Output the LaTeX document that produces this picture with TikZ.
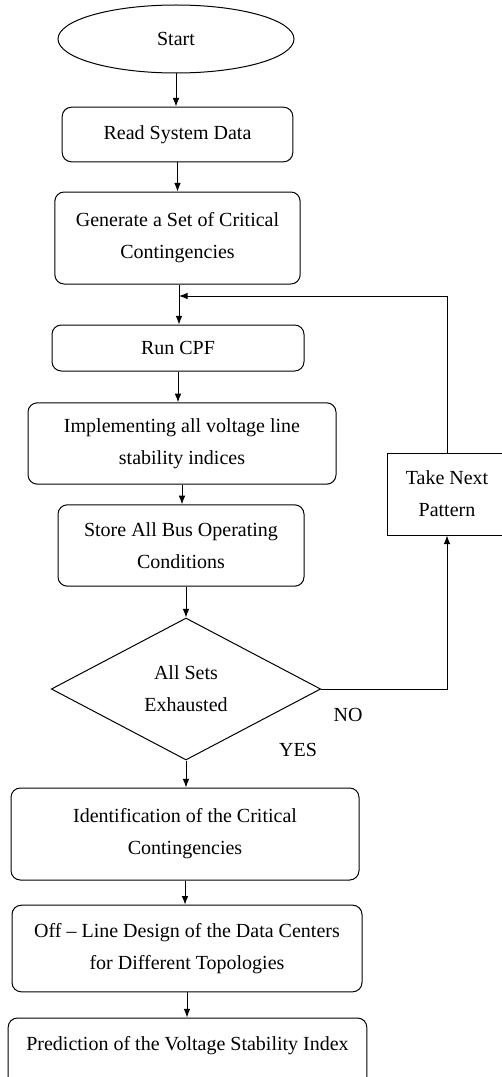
\documentclass[tikz,border=0pt]{standalone}
\usepackage{fontspec}
\setmainfont{Liberation Serif}
\usepackage{tikz}
\usetikzlibrary{shapes,arrows,arrows.meta}
\tikzset{
	box/.style      = {draw, rectangle, rounded corners=7pt, align=center},
	term/.style     = {draw, ellipse},
	decide/.style   = {draw, diamond, aspect=1.9, inner sep=0pt, align=center},
	plainbox/.style = {draw, rectangle, align=center},
	txt/.style      = {inner sep=0pt} % yes/no words
}

\begin{document}
\begin{tikzpicture}[x=0.75pt, y=-0.75pt, line width=0.75pt, >={Latex[length=6.5pt,width=5pt]},
	font=\fontsize{15}{24}\selectfont]
	\clip (0,0) rectangle (502,1077);
	\draw
	node at (176,39)[term, minimum width=177pt, minimum height=51pt] (start) {Start}
	node at (177.5,134.5)[box, minimum width=173pt, minimum height=41pt] (read) {Read System Data}
	node at (177.5,238)[box, minimum width=184pt, minimum height=69pt] (gen) {Generate a Set of Critical\\Contingencies}
	node at (178,348)[box, minimum width=189pt, minimum height=34.5pt] (cpf) {Run CPF}
	node at (182,443.5)[box, minimum width=231pt, minimum height=61pt] (impl) {Implementing all voltage line\\stability indices}
	node at (181,545.5)[box, minimum width=184.5pt, minimum height=61pt] (store) {Store All Bus Operating\\Conditions}
	node at (186,689)[decide, minimum width=202pt, minimum height=106.5pt] (dia) {All Sets\\Exhausted}
	node at (447,494)[plainbox, minimum width=90pt, minimum height=61.5pt] (take) {Take Next\\Pattern}
	node at (185,834)[box, minimum width=261pt, minimum height=69pt] (ident) {Identification of the Critical\\Contingencies}
	node at (187,948.5)[box, minimum width=262.5pt, minimum height=65pt] (off) {Off -- Line Design of the Data Centers\\for Different Topologies}
	node at (187.5,1064)[box, minimum width=269pt, minimum height=69pt] (pred) {Prediction of the Voltage Stability Index\\ \strut}
	node at (348,715)[txt] (no) {NO}
	node at (298,750)[txt] (yes) {YES}
	;
	\coordinate (loop) at (179,296);
	
	\draw[->] (start.south) -- (start.south |- read.north);
	\draw[->] (read.south) -- (read.south |- gen.north);
	\draw[->] (loop |- gen.south) -- (loop |- cpf.north);
	\draw[->] (take.north) |- (loop);
	\draw[->] (cpf.south) -- (cpf.south |- impl.north);
	\draw[->] (impl.south) -- (impl.south |- store.north);
	\draw[->] (dia.north |- store.south) -- (dia.north);
	\draw[->] (dia.east) -| (take.south);
	\draw[->] (dia.south) -- (dia.south |- ident.north);
	\draw[->] (ident.south) -- (ident.south |- off.north);
	\draw[->] (off.south) -- (off.south |- pred.north);
\end{tikzpicture}
\end{document}
